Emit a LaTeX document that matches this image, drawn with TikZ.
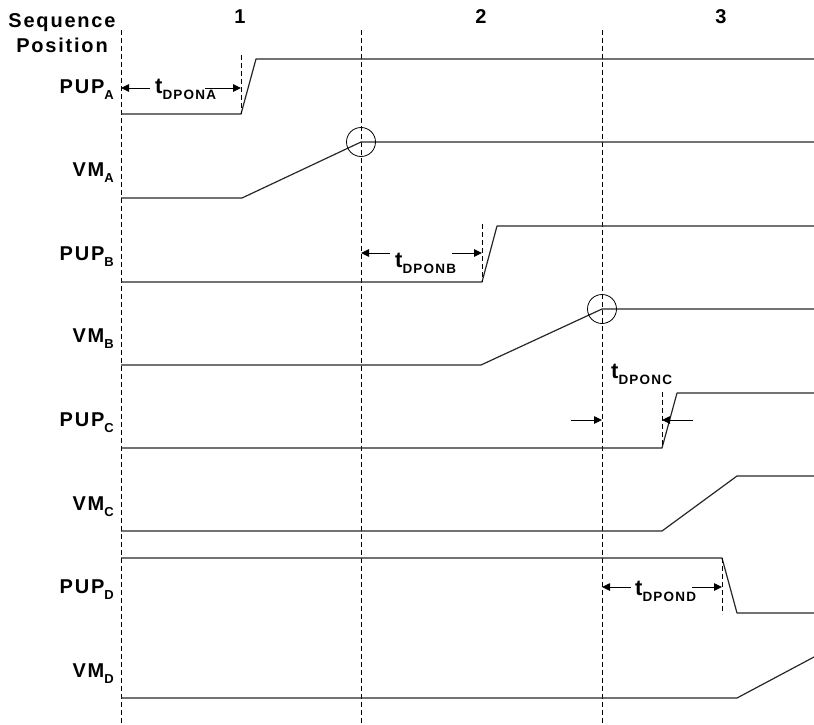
\documentclass[tikz,border=0pt]{standalone}
\usepackage{fontspec}
\setmainfont{Liberation Sans}
\newfontfamily\sigfont[LetterSpace=9]{Liberation Sans Bold}
\usetikzlibrary{arrows.meta}
% signal name with subscript
\newcommand{\sgn}[2]{\sigfont\fontsize{20}{20}\selectfont #1\raisebox{-6pt}{\fontsize{13}{12}\selectfont #2}}
% delay name t_DPONx
\newcommand{\tdp}[1]{\sigfont{\fontsize{22}{22}\selectfont t}\raisebox{-6pt}{\fontsize{13.5}{13}\selectfont DPON#1}}
\begin{document}
\begin{tikzpicture}[x=1pt,y=-1pt]
  \tikzstyle{sig}=[line width=1.2pt,black!85,line join=round]
  \tikzstyle{grid}=[dash pattern=on 5pt off 3pt,line width=0.8pt]
  \tikzstyle{tick}=[dash pattern=on 5pt off 3pt,line width=0.8pt]
  \tikzstyle{lbl}=[anchor=base east,inner sep=0pt]
  \tikzstyle{dly}=[anchor=base west,inner sep=0pt]
  \tikzstyle{span}=[-{Triangle[length=8pt,width=7.5pt]},line width=0.9pt]
  \tikzstyle{hit}=[draw,circle,line width=0.8pt,minimum size=29pt,inner sep=0pt]
  \tikzstyle{hdr}=[inner sep=0pt,font={\sigfont\fontsize{20}{25}\selectfont}]
  \useasboundingbox (0,0) rectangle (814,725);

  % header
  \node[hdr,align=center] (seq) at (62,33) {Sequence\\Position};
  \node[hdr] (n_1) at (240,17) {1};
  \node[hdr] (n_2) at (481,17) {2};
  \node[hdr] (n_3) at (721,17) {3};

  % sequence boundaries
  \foreach \x/\n in {121/0,361/1,602/2}{
    \coordinate (B_\n) at (\x,30);
    \coordinate (E_\n) at (\x,725);
    \draw[grid] (B_\n) -- (E_\n);
  }

  % signal names
  \node[lbl] (L_PA) at (114,93)  {\sgn{PUP}{A}};
  \node[lbl] (L_VA) at (114,176) {\sgn{VM}{A}};
  \node[lbl] (L_PB) at (114,260) {\sgn{PUP}{B}};
  \node[lbl] (L_VB) at (114,342) {\sgn{VM}{B}};
  \node[lbl] (L_PC) at (114,426) {\sgn{PUP}{C}};
  \node[lbl] (L_VC) at (114,510) {\sgn{VM}{C}};
  \node[lbl] (L_PD) at (114,593) {\sgn{PUP}{D}};
  \node[lbl] (L_VD) at (114,677) {\sgn{VM}{D}};

  % waveforms
  \draw[sig] (121,114) -- (241,114) -- (256,59) -- (814,59);
  \draw[sig] (121,198) -- (242,198) -- (361,142) -- (814,142);
  \draw[sig] (121,282) -- (482,282) -- (497,226) -- (814,226);
  \draw[sig] (121,365) -- (481,365) -- (602,309) -- (814,309);
  \draw[sig] (121,448) -- (662,448) -- (677,393) -- (814,393);
  \draw[sig] (121,531) -- (662,531) -- (737,476) -- (814,476);
  \draw[sig] (121,558) -- (722,558) -- (737,613) -- (814,613);
  \draw[sig] (121,698) -- (737,698) -- (814,657);

  % turn-on points
  \node[hit] (K_A) at (361,142) {};
  \node[hit] (K_B) at (602,309) {};

  % delay markers
  \draw[tick] (241,55) -- (241,114);
  \draw[tick] (482,224) -- (482,282);
  \draw[tick] (662,392) -- (662,448);
  \draw[tick] (722,558) -- (722,614);

  % t_DPONA
  \node[dly] (T_A) at (155,93) {\tdp{A}};
  \coordinate (TA_1) at (150,88); \coordinate (TA_2) at (205,88);
  \coordinate (TA_3) at (121,88); \coordinate (TA_4) at (241,88);
  \draw[span] (TA_1) -- (TA_3);
  \draw[span] (TA_2) -- (TA_4);

  % t_DPONB
  \node[dly] (T_B) at (395,267) {\tdp{B}};
  \coordinate (TB_1) at (390,253); \coordinate (TB_2) at (452,253);
  \coordinate (TB_3) at (361,253); \coordinate (TB_4) at (482,253);
  \draw[span] (TB_1) -- (TB_3);
  \draw[span] (TB_2) -- (TB_4);

  % t_DPONC
  \node[dly] (T_C) at (611,378) {\tdp{C}};
  \coordinate (TC_1) at (571,420); \coordinate (TC_2) at (693,420);
  \coordinate (TC_3) at (602,420); \coordinate (TC_4) at (662,420);
  \draw[span] (TC_1) -- (TC_3);
  \draw[span] (TC_2) -- (TC_4);

  % t_DPOND
  \node[dly] (T_D) at (635,595) {\tdp{D}};
  \coordinate (TD_1) at (631,587); \coordinate (TD_2) at (692,587);
  \coordinate (TD_3) at (602,587); \coordinate (TD_4) at (722,587);
  \draw[span] (TD_1) -- (TD_3);
  \draw[span] (TD_2) -- (TD_4);
\end{tikzpicture}
\end{document}
